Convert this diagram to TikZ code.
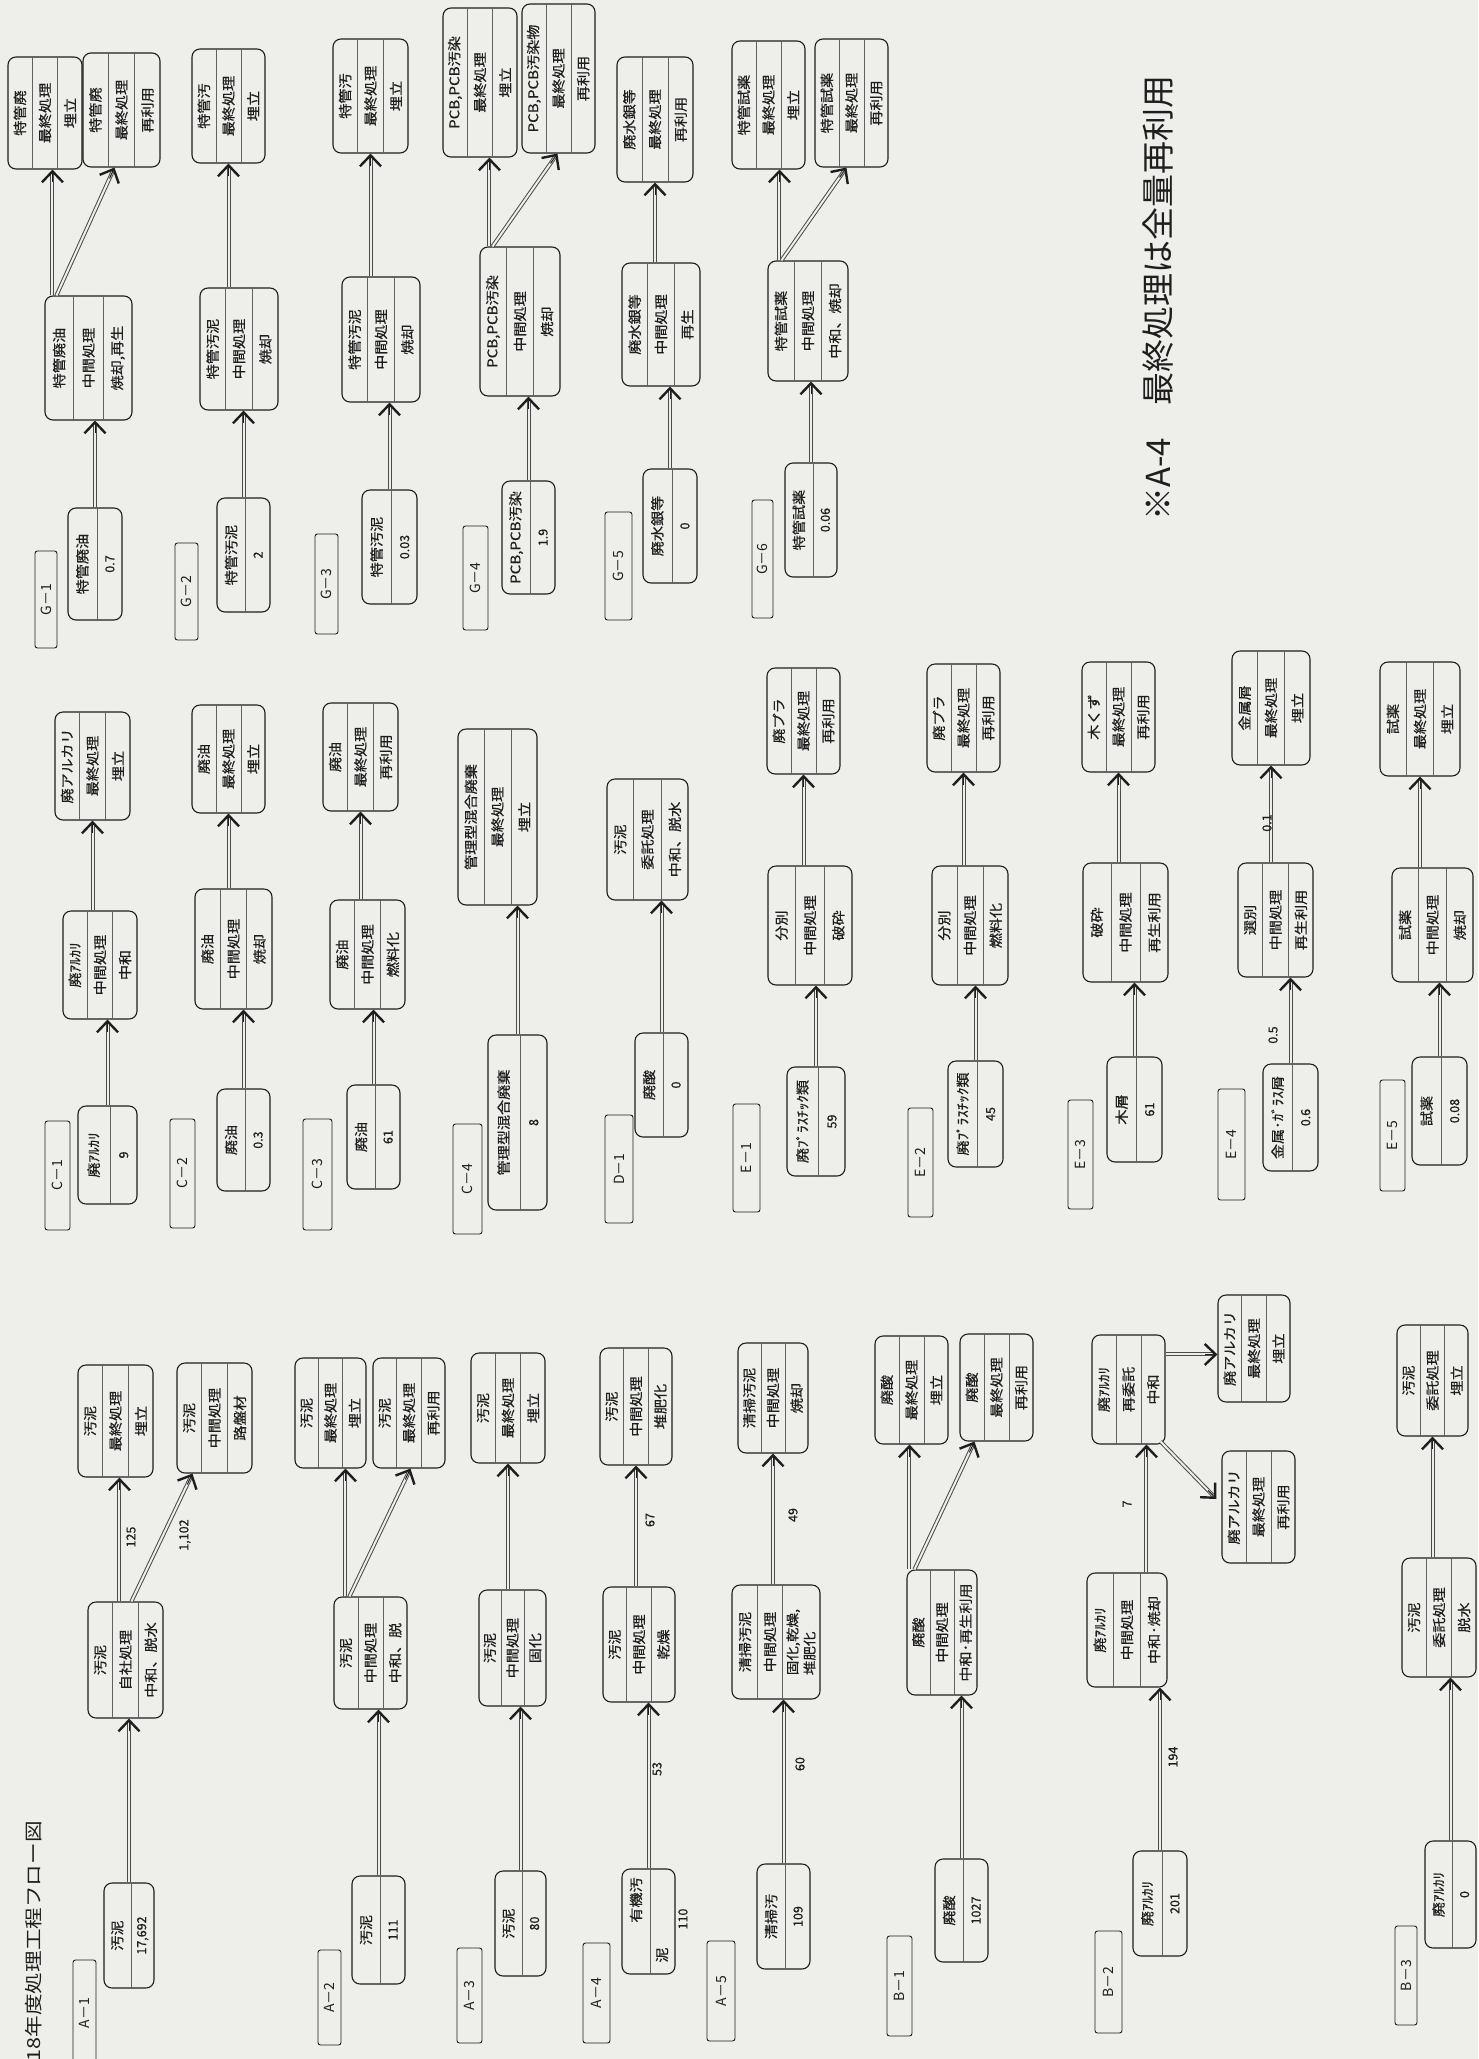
\documentclass[tikz,border=0pt]{standalone}
\usepackage{fontspec}
\usepackage{graphicx}
\newfontfamily\jp{Noto Sans CJK JP}
\newfontfamily\jpb[FakeBold=0.5]{Noto Sans CJK JP}
\usetikzlibrary{calc,fit,arrows.meta}
\definecolor{paper}{RGB}{238,238,234}
\definecolor{ink}{RGB}{30,30,30}
\newcommand{\st}[1]{\scalebox{1.12}[1]{#1}}
\tikzset{
 bx/.style={draw=ink, line width=1.1pt, rounded corners=8pt, inner sep=0pt},
 lb/.style={draw=ink, line width=0.9pt, rounded corners=2.5pt, inner sep=0pt},
 sepl/.style={draw=ink!70, line width=0.7pt},
 txt/.style={rotate=90, font=\jpb\fontsize{13.5}{16}\selectfont, text=ink, inner sep=0pt},
 num/.style={rotate=90, font=\jpb\fontsize{12.5}{15}\selectfont, text=ink, inner sep=0pt},
 lbt/.style={rotate=90, font=\jp\fontsize{14}{16}\selectfont, text=ink, inner sep=0pt},
 shaft/.style={draw=ink!80, line width=1pt, double=paper, double distance=2pt, shorten >=3pt},
 tipl/.style={draw=ink, line width=1pt, -{Straight Barb[length=11pt,width=21pt,line width=2.4pt]}},
}
\newcommand{\bthree}[8]{%
 \node[bx, fit={(#2,#3) (#4,#5)}] (#1) {};
 \draw[sepl] ($(#1.north west)!0.3333!(#1.north east)$) -- ($(#1.south west)!0.3333!(#1.south east)$);
 \draw[sepl] ($(#1.north west)!0.6667!(#1.north east)$) -- ($(#1.south west)!0.6667!(#1.south east)$);
 \node[txt] (#1-1) at ($(#1.west)!0.1667!(#1.east)$) {\st{#6}};
 \node[txt] (#1-2) at (#1.center) {\st{#7}};
 \node[txt] (#1-3) at ($(#1.west)!0.8333!(#1.east)$) {\st{#8}};
}
\newcommand{\btwo}[7]{%
 \node[bx, fit={(#2,#3) (#4,#5)}] (#1) {};
 \draw[sepl] ($(#1.north west)!0.54!(#1.north east)$) -- ($(#1.south west)!0.54!(#1.south east)$);
 \node[txt] (#1-1) at ($(#1.west)!0.27!(#1.east)$) {\st{#6}};
 \node[num] (#1-2) at ($(#1.west)!0.77!(#1.east)$) {#7};
}
\newcommand{\lbl}[6]{%
 \node[lb, fit={(#2,#3) (#4,#5)}] (#1) {};
 \node[lbt] (#1-t) at (#1.center) {#6};
}
\newcommand{\flow}[2]{%
 \draw[shaft] (#1) -- (#2);
 \draw[tipl] ($(#2)!12pt!(#1)$) -- (#2);
}
\newcommand{\chain}[3]{% source, mid, end
 \path (#1.north |- #2.south) coordinate (#1-t) (#3.south |- #2.north) coordinate (#2-o);
 \flow{#1.north}{#1-t}
 \flow{#2-o}{#3.south}
}
\newcommand{\direct}[2]{% source straight to end
 \path (#1.north |- #2.south) coordinate (#1-t);
 \flow{#1.north}{#1-t}
}
\newcommand{\fork}[7]{% source, mid, end1, end2, offset straight, offset diagonal, tip offset on end2
 \path (#1.north |- #2.south) coordinate (#1-t)
   ($(#2.north west)+(#5,0)$) coordinate (#2-o1)
   ($(#2.north west)+(#6,0)$) coordinate (#2-o2)
   ($(#4.south west)+(#7,0)$) coordinate (#4-in);
 \path (#2-o1 |- #3.south) coordinate (#3-in);
 \flow{#1.north}{#1-t}
 \flow{#2-o1}{#3-in}
 \flow{#2-o2}{#4-in}
}
\begin{document}
\begin{tikzpicture}[x=1pt,y=-1pt]
\fill[paper] (0,0) rectangle (1478,2059);
\useasboundingbox (0,0) rectangle (1478,2059);

% ---------- title and note ----------
\node[rotate=90, anchor=east, inner sep=0pt, font=\jp\fontsize{18}{22}\selectfont, text=ink] (title) at (34,1821) {\scalebox{1.2}[1]{18年度処理工程フロー図}};
\node[rotate=90, inner sep=0pt, font=\jp\fontsize{33}{36}\selectfont, text=ink] (note) at (1158,298) {※A-4　最終処理は全量再利用};

% ================= A / B band =================
% A-1
\lbl{la1}{73}{1960}{96}{2066}{A－1}
\btwo{sa1}{104}{1883}{154}{1988}{汚泥}{17,692}
\bthree{ma1}{88}{1602}{163}{1718}{汚泥}{自社処理}{中和、脱水}
\bthree{ea1a}{78}{1365}{153}{1477}{汚泥}{最終処理}{埋立}
\bthree{ea1b}{177}{1363}{252}{1473}{汚泥}{中間処理}{路盤材}
\fork{sa1}{ma1}{ea1a}{ea1b}{32}{44}{16}
\node[num] (na1a) at (131,1537) {125};
\node[num] (na1b) at (185,1535) {1,102};

% A-2
\lbl{la2}{318}{1950}{341}{2045}{A－2}
\btwo{sa2}{352}{1876}{405}{1984}{汚泥}{111}
\bthree{ma2}{334}{1597}{407}{1709}{汚泥}{中間処理}{中和、脱}
\bthree{ea2a}{295}{1358}{366}{1468}{汚泥}{最終処理}{埋立}
\bthree{ea2b}{373}{1358}{445}{1468}{汚泥}{最終処理}{再利用}
\fork{sa2}{ma2}{ea2a}{ea2b}{12}{16}{38}

% A-3
\lbl{la3}{457}{1948}{482}{2043}{A－3}
\btwo{sa3}{495}{1871}{546}{1976}{汚泥}{80}
\bthree{ma3}{479}{1590}{546}{1706}{汚泥}{中間処理}{固化}
\bthree{ea3}{471}{1353}{545}{1463}{汚泥}{最終処理}{埋立}
\chain{sa3}{ma3}{ea3}

% A-4
\lbl{la4}{583}{1943}{610}{2043}{A－4}
\btwo{sa4}{622}{1869}{675}{1974}{}{}
\node[txt] (sa4-a) at (636,1900) {\st{有機汚}};
\node[txt] (sa4-b) at (662,1955) {\st{泥}};
\node[num] (sa4-c) at (683,1919) {110};
\bthree{ma4}{603}{1587}{675}{1702}{汚泥}{中間処理}{乾燥}
\bthree{ea4}{600}{1348}{672}{1465}{汚泥}{中間処理}{堆肥化}
\chain{sa4}{ma4}{ea4}
\node[num] (na4a) at (657,1769) {53};
\node[num] (na4b) at (650,1520) {67};

% A-5
\lbl{la5}{707}{1941}{735}{2041}{A－5}
\btwo{sa5}{757}{1864}{810}{1969}{清掃汚}{109}
\node[bx, fit={(732,1585) (820,1699)}] (ma5) {};
\draw[sepl] ($(ma5.north west)+(26,0)$) -- ($(ma5.south west)+(26,0)$);
\draw[sepl] ($(ma5.north west)+(51,0)$) -- ($(ma5.south west)+(51,0)$);
\node[txt] (ma5-1) at (745,1642) {\st{清掃汚泥}};
\node[txt] (ma5-2) at (770,1642) {\st{中間処理}};
\node[txt, align=left, font=\jpb\fontsize{13}{17}\selectfont] (ma5-3) at (801,1642) {\st{固化,乾燥,}\\\st{堆肥化}};
\bthree{ea5}{738}{1343}{808}{1453}{清掃汚泥}{中間処理}{焼却}
\chain{sa5}{ma5}{ea5}
\node[num] (na5a) at (800,1764) {60};
\node[num] (na5b) at (793,1515) {49};

% B-1
\lbl{lb1}{887}{1936}{912}{2036}{B－1}
\btwo{sb1}{935}{1859}{988}{1962}{廃酸}{1027}
\bthree{mb1}{907}{1570}{977}{1695}{廃酸}{中間処理}{中和･再生利用}
\bthree{eb1a}{875}{1336}{948}{1444}{廃酸}{最終処理}{埋立}
\bthree{eb1b}{960}{1334}{1033}{1441}{廃酸}{最終処理}{再利用}
\fork{sb1}{mb1}{eb1a}{eb1b}{3}{8}{15}

% B-2
\lbl{lb2}{1095}{1931}{1122}{2033}{B－2}
\btwo{sb2}{1133}{1851}{1187}{1956}{廃ｱﾙｶﾘ}{201}
\bthree{mb2}{1087}{1573}{1167}{1687}{廃ｱﾙｶﾘ}{中間処理}{中和･焼却}
\bthree{nb2}{1092}{1335}{1165}{1444}{廃ｱﾙｶﾘ}{再委託}{中和}
\bthree{eb2a}{1218}{1295}{1290}{1402}{廃アルカリ}{最終処理}{埋立}
\bthree{eb2b}{1222}{1451}{1295}{1563}{廃アルカリ}{最終処理}{再利用}
\path (sb2.north |- mb2.south) coordinate (sb2-t)
  ($(mb2.north west)+(60,0)$) coordinate (mb2-o)
  ($(nb2.north east)+(0,20)$) coordinate (nb2-r)
  ($(nb2.south east)+(-5,-3)$) coordinate (nb2-d)
  ($(eb2b.west)+(-5,-8)$) coordinate (eb2b-in);
\path (mb2-o |- nb2.south) coordinate (nb2-in) (nb2-r -| eb2a.west) coordinate (eb2a-in);
\flow{sb2.north}{sb2-t}
\flow{mb2-o}{nb2-in}
\flow{nb2-r}{eb2a-in}
\flow{nb2-d}{eb2b-in}
\node[num] (nb2a) at (1173,1757) {194};
\node[num] (nb2b) at (1127,1504) {7};

% B-3
\lbl{lb3}{1395}{1926}{1417}{2025}{B－3}
\btwo{sb3}{1425}{1841}{1476}{1948}{廃ｱﾙｶﾘ}{0}
\bthree{mb3}{1402}{1558}{1476}{1677}{汚泥}{委託処理}{脱水}
\bthree{eb3}{1397}{1325}{1468}{1436}{汚泥}{委託処理}{埋立}
\chain{sb3}{mb3}{eb3}

% ================= C / D / E band =================
\lbl{lc1}{45}{1121}{70}{1230}{C－1}
\btwo{sc1}{78}{1106}{137}{1204}{廃ｱﾙｶﾘ}{9}
\bthree{mc1}{63}{911}{137}{1019}{廃ｱﾙｶﾘ}{中間処理}{中和}
\bthree{ec1}{55}{712}{130}{820}{廃アルカリ}{最終処理}{埋立}
\chain{sc1}{mc1}{ec1}

\lbl{lc2}{170}{1119}{195}{1228}{C－2}
\btwo{sc2}{217}{1089}{270}{1191}{廃油}{0.3}
\bthree{mc2}{195}{889}{272}{1009}{廃油}{中間処理}{焼却}
\bthree{ec2}{192}{705}{265}{813}{廃油}{最終処理}{埋立}
\chain{sc2}{mc2}{ec2}

\lbl{lc3}{303}{1119}{332}{1230}{C－3}
\btwo{sc3}{347}{1085}{400}{1189}{廃油}{61}
\bthree{mc3}{330}{900}{405}{1009}{廃油}{中間処理}{燃料化}
\bthree{ec3}{323}{703}{398}{811}{廃油}{最終処理}{再利用}
\chain{sc3}{mc3}{ec3}

\lbl{lc4}{453}{1124}{482}{1234}{C－4}
\btwo{sc4}{488}{1035}{547}{1210}{管理型混合廃棄}{8}
\bthree{ec4}{458}{729}{537}{905}{管理型混合廃棄}{最終処理}{埋立}
\direct{sc4}{ec4}

\lbl{ld1}{605}{1115}{633}{1223}{D－1}
\btwo{sd1}{635}{1033}{688}{1137}{廃酸}{0}
\bthree{ed1}{607}{779}{688}{900}{汚泥}{委託処理}{中和、脱水}
\direct{sd1}{ed1}

\lbl{le1}{733}{1104}{760}{1212}{E－1}
\btwo{se1}{787}{1067}{845}{1176}{廃ﾌﾟﾗｽﾁｯｸ類}{59}
\bthree{me1}{768}{866}{852}{985}{分別}{中間処理}{破砕}
\bthree{ee1}{767}{668}{840}{774}{廃プラ}{最終処理}{再利用}
\chain{se1}{me1}{ee1}

\lbl{le2}{908}{1108}{933}{1217}{E－2}
\btwo{se2}{948}{1061}{1003}{1167}{廃ﾌﾟﾗｽﾁｯｸ類}{45}
\bthree{me2}{932}{866}{1008}{985}{分別}{中間処理}{燃料化}
\bthree{ee2}{927}{664}{1000}{772}{廃プラ}{最終処理}{再利用}
\chain{se2}{me2}{ee2}

\lbl{le3}{1068}{1100}{1093}{1209}{E－3}
\btwo{se3}{1107}{1057}{1162}{1162}{木屑}{61}
\bthree{me3}{1083}{863}{1168}{982}{破砕}{中間処理}{再生利用}
\bthree{ee3}{1082}{662}{1155}{772}{木くず}{最終処理}{再利用}
\chain{se3}{me3}{ee3}

\lbl{le4}{1218}{1089}{1245}{1200}{E－4}
\btwo{se4}{1263}{1064}{1318}{1171}{金属･ｶﾞﾗｽ屑}{0.6}
\bthree{me4}{1238}{863}{1313}{977}{選別}{中間処理}{再生利用}
\bthree{ee4}{1232}{651}{1310}{765}{金属屑}{最終処理}{埋立}
\chain{se4}{me4}{ee4}
\node[num] (ne4a) at (1273,1035) {0.5};
\node[num] (ne4b) at (1267,823) {0.1};

\lbl{le5}{1380}{1080}{1405}{1191}{E－5}
\btwo{se5}{1412}{1057}{1467}{1165}{試薬}{0.08}
\bthree{me5}{1392}{868}{1473}{982}{試薬}{中間処理}{焼却}
\bthree{ee5}{1380}{662}{1460}{776}{試薬}{最終処理}{埋立}
\chain{se5}{me5}{ee5}

% ================= G band =================
\lbl{lg1}{35}{551}{57}{648}{G－1}
\btwo{sg1}{68}{508}{122}{620}{特管廃油}{0.7}
\bthree{mg1}{45}{296}{132}{420}{特管廃油}{中間処理}{焼却,再生}
\bthree{eg1a}{8}{57}{82}{169}{特管廃}{最終処理}{埋立}
\bthree{eg1b}{83}{53}{160}{167}{特管廃}{最終処理}{再利用}
\fork{sg1}{mg1}{eg1a}{eg1b}{8}{12}{32}

\lbl{lg2}{175}{543}{198}{640}{G－2}
\btwo{sg2}{217}{498}{270}{612}{特管汚泥}{2}
\bthree{mg2}{200}{288}{278}{410}{特管汚泥}{中間処理}{焼却}
\bthree{eg2}{192}{49}{265}{163}{特管汚}{最終処理}{埋立}
\chain{sg2}{mg2}{eg2}

\lbl{lg3}{315}{534}{338}{634}{G－3}
\btwo{sg3}{362}{490}{417}{604}{特管汚泥}{0.03}
\bthree{mg3}{342}{277}{420}{402}{特管汚泥}{中間処理}{焼却}
\bthree{eg3}{333}{39}{408}{153}{特管汚}{最終処理}{埋立}
\chain{sg3}{mg3}{eg3}

\lbl{lg4}{463}{526}{488}{630}{G－4}
\btwo{sg4}{502}{481}{555}{594}{PCB,PCB汚染}{1.9}
\bthree{mg4}{480}{247}{560}{396}{PCB,PCB汚染}{中間処理}{焼却}
\bthree{eg4a}{443}{8}{517}{157}{PCB,PCB汚染}{最終処理}{埋立}
\bthree{eg4b}{522}{4}{595}{153}{PCB,PCB汚染物}{最終処理}{再利用}
\fork{sg4}{mg4}{eg4a}{eg4b}{10}{13}{36}

\lbl{lg5}{605}{512}{632}{620}{G－5}
\btwo{sg5}{643}{469}{697}{583}{廃水銀等}{0}
\bthree{mg5}{622}{263}{700}{386}{廃水銀等}{中間処理}{再生}
\bthree{eg5}{617}{57}{693}{182}{廃水銀等}{最終処理}{再利用}
\chain{sg5}{mg5}{eg5}

\lbl{lg6}{752}{500}{773}{618}{G－6}
\btwo{sg6}{785}{463}{837}{577}{特管試薬}{0.06}
\bthree{mg6}{768}{261}{848}{381}{特管試薬}{中間処理}{中和、焼却}
\bthree{eg6a}{732}{41}{805}{169}{特管試薬}{最終処理}{埋立}
\bthree{eg6b}{815}{39}{888}{167}{特管試薬}{最終処理}{再利用}
\fork{sg6}{mg6}{eg6a}{eg6b}{12}{14}{32}
\end{tikzpicture}
\end{document}
